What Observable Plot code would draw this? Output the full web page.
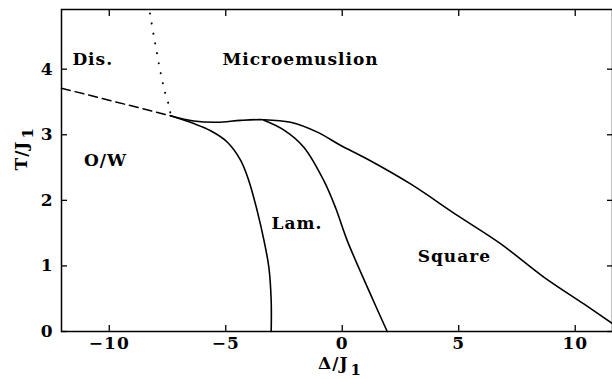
<!DOCTYPE html>
<html><head><meta charset="utf-8">
<script src="https://cdn.jsdelivr.net/npm/d3@7"></script>
<script src="https://cdn.jsdelivr.net/npm/@observablehq/plot@0.6"></script>
<style>body{margin:0;background:#fff} svg{display:block}</style>
</head><body><div id="chart"></div>
<script>
// Tick values
const xTicks = [-10, -5, 0, 5, 10];
const yTicks = [0, 1, 2, 3, 4];

// Disorder / O-W boundary (dashed)
const dashDelta = [-12.05, -7.37];
const dashT = [3.71, 3.29];

// Disorder / microemulsion boundary (dotted)
const dotDelta = [-8.25, -8.09, -7.97, -7.80, -7.61, -7.40, -7.37];
const dotT = [4.85, 4.51, 4.28, 3.95, 3.65, 3.39, 3.29];

// O/W - Lamellar boundary
const owDelta = [-7.37, -6.37, -5.65, -4.94, -4.36, -4.01, -3.65, -3.36, -3.15, -3.05, -3.05];
const owT = [3.29, 3.17, 3.06, 2.89, 2.61, 2.30, 1.84, 1.39, 0.98, 0.47, 0.0];

// Microemulsion - ordered boundary (top, continuing into Square boundary)
const topDelta = [-7.37, -6.37, -5.36, -4.36, -3.36, -2.22, -1.07, -0.08, 1.07, 2.93, 4.94, 6.79, 8.65, 10.37, 11.6];
const topT = [3.29, 3.21, 3.19, 3.22, 3.23, 3.19, 3.04, 2.84, 2.63, 2.25, 1.77, 1.34, 0.83, 0.42, 0.12];

// Lamellar - Square boundary
const lsDelta = [-3.36, -2.5, -1.65, -0.79, -0.29, 0.21, 1.21, 1.93];
const lsT = [3.22, 3.07, 2.81, 2.30, 1.89, 1.39, 0.57, 0.0];

// Region labels
const regionNames = ["Dis.", "Microemuslion", "O/W", "Lam.", "Square"];
const regionDelta = [-10.71, -1.79, -10.16, -1.94, 4.81];
const regionT = [4.15, 4.15, 2.61, 1.65, 1.14];

const pts = (xs, ys) => xs.map((x, i) => ({x, y: ys[i]}));
const regions = regionNames.map((t, i) => ({t, x: regionDelta[i], y: regionT[i]}));
const fmt = d => d < 0 ? "\u2212" + Math.abs(d) : String(d);

const plot = Plot.plot({
  width: 612, height: 379,
  marginLeft: 61, marginRight: 0, marginTop: 9, marginBottom: 48,
  style: {fontFamily: "DejaVu Serif", fontWeight: "bold", fontSize: "17px", letterSpacing: "1px", background: "white", color: "black"},
  x: {domain: [-12.05, 11.6]},
  y: {domain: [0, 4.91]},
  marks: [
    Plot.axisX(xTicks, {anchor: "bottom", tickSize: -6, tickPadding: 11, tickFormat: fmt, label: null, strokeWidth: 1.3, fontSize: 17}),
    Plot.axisX(xTicks, {anchor: "top", tickSize: -6, tickFormat: () => "", label: null, strokeWidth: 1.3}),
    Plot.axisY(yTicks, {anchor: "left", tickSize: -6, tickPadding: 14, tickFormat: fmt, label: null, strokeWidth: 1.3, fontSize: 17}),
    Plot.axisY(yTicks, {anchor: "right", tickSize: -6, tickFormat: () => "", label: null, strokeWidth: 1.3}),
    Plot.frame({strokeWidth: 1.5}),
    Plot.line(pts(dashDelta, dashT), {x: "x", y: "y", strokeWidth: 1.5, strokeDasharray: "9,5"}),
    Plot.line(pts(dotDelta, dotT), {x: "x", y: "y", strokeWidth: 2, strokeDasharray: "0.1,10", strokeLinecap: "round", curve: "catmull-rom"}),
    Plot.line(pts(owDelta, owT), {x: "x", y: "y", strokeWidth: 1.6, curve: "catmull-rom"}),
    Plot.line(pts(topDelta, topT), {x: "x", y: "y", strokeWidth: 1.6, curve: "catmull-rom"}),
    Plot.line(pts(lsDelta, lsT), {x: "x", y: "y", strokeWidth: 1.6, curve: "catmull-rom"}),
    Plot.text(regions, {x: "x", y: "y", text: "t", fontSize: 17, fontWeight: "bold"}),
    Plot.text(["\u0394/J1"], {frameAnchor: "bottom", dy: 37, dx: 3, fontSize: 17, fontWeight: "bold"}),
    Plot.text(["T/J1"], {frameAnchor: "left", dx: -40, rotate: -90, fontSize: 17, fontWeight: "bold"})
  ]
});

// render subscripts in the axis labels
d3.select(plot).selectAll("text").filter(function() {
  return this.textContent === "\u0394/J1" || this.textContent === "T/J1";
}).each(function() {
  const base = this.textContent.slice(0, -1);
  const sel = d3.select(this);
  sel.text(base);
  sel.append("tspan").attr("dy", "0.4em").attr("dx", "2").attr("font-size", "15").text("1");
});

document.getElementById("chart").appendChild(plot);
</script>
</body></html>
